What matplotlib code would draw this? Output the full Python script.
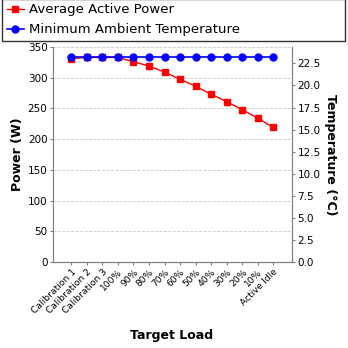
import numpy as np
import matplotlib
matplotlib.use('Agg')
import matplotlib.pyplot as plt

# data
loads = ['Calibration 1', 'Calibration 2', 'Calibration 3', '100%', '90%', '80%',
         '70%', '60%', '50%', '40%', '30%', '20%', '10%', 'Active Idle']
power = [331, 333, 333, 333, 326, 319, 309, 297.5, 286, 273, 261, 248, 234, 219]
temperature = [23.2] * 14

x = np.arange(len(loads))

fig = plt.figure(figsize=(3.48, 3.48), dpi=100)
ax = fig.add_axes([53 / 348, 1 - 262 / 348, 239 / 348, 215 / 348])
ax2 = ax.twinx()

# power on the left axis
l1, = ax.plot(x, power, color='#ff0000', marker='s', markersize=5, linewidth=1,
              label='Average Active Power')
ax.set_ylim(0, 350)
ax.set_yticks(np.arange(0, 351, 50))
ax.set_xlim(-1.18, len(loads) - 1 + 1.2)
ax.set_xticks(x)
ax.set_xticklabels(loads, rotation=45, ha='right', rotation_mode='anchor', fontsize=6.6)
ax.tick_params(axis='y', labelsize=7.5, length=2, color='gray', pad=2)
ax.tick_params(axis='x', length=2, color='gray', pad=2)
ax.grid(axis='y', color='#cccccc', linestyle='--', linewidth=0.6)
ax.set_axisbelow(True)
ax.set_ylabel('Power (W)', fontsize=9, fontweight='bold', labelpad=3)
fig.text(172 / 348, 1 - 335 / 348, 'Target Load', fontsize=9, fontweight='bold',
         ha='center', va='center')

# temperature on the right axis
l2, = ax2.plot(x, temperature, color='#0000ff', marker='o', markersize=5, linewidth=1.2,
               label='Minimum Ambient Temperature')
ax2.set_ylim(0, 24.36)
ax2.set_yticks(np.arange(0, 23, 2.5))
ax2.set_yticklabels(['%.1f' % v for v in np.arange(0, 23, 2.5)])
ax2.tick_params(axis='y', labelsize=7.5, length=2, color='gray', pad=2)
ax2.set_ylabel('Temperature (°C)', fontsize=9, fontweight='bold', rotation=270, labelpad=12)

for a in (ax, ax2):
    a.spines['top'].set_visible(False)
    for s in ('left', 'right', 'bottom'):
        a.spines[s].set_color('gray')

leg = fig.legend(handles=[l1, l2], loc='upper left', bbox_to_anchor=(2 / 348, 1 - 2 / 348, 343 / 348, 0.01),
                 mode='expand', fontsize=9.5, frameon=True, fancybox=False, handlelength=1.3,
                 borderaxespad=0, labelspacing=0.55, handletextpad=0.4, borderpad=0.35)
leg.get_frame().set_edgecolor('black')
leg.get_frame().set_linewidth(1)

fig.savefig('out.png', dpi=100)
